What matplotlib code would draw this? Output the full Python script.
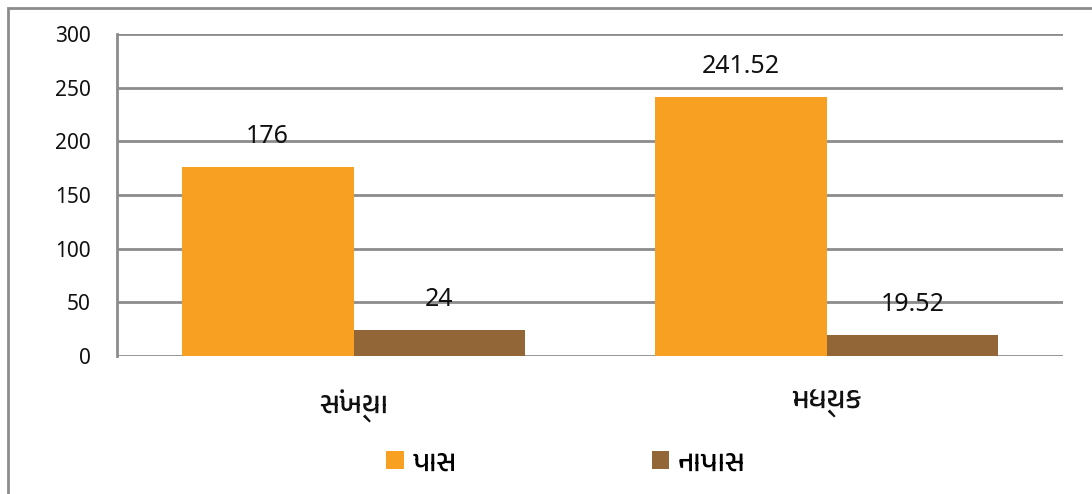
import matplotlib
matplotlib.use("Agg")
import matplotlib.pyplot as plt
from matplotlib import font_manager
from matplotlib.patches import Rectangle
import numpy as np

categories = ["સંખ્યા", "મધ્યક"]
series_names = ["પાસ", "નાપાસ"]
pass_values = [176, 241.52]
fail_values = [24, 19.52]
value_labels_pass = ["176", "241.52"]
value_labels_fail = ["24", "19.52"]
yticks = [0, 50, 100, 150, 200, 250, 300]

colors = ["#F7A021", "#936637"]

guj = [f.name for f in font_manager.fontManager.ttflist if "gujarati" in f.name.lower()]
families = (guj[:1] if guj else []) + ["Noto Sans", "DejaVu Sans"]
plt.rcParams["font.family"] = families
numfont = ["Noto Sans", "DejaVu Sans"]

W, H = 1092, 494
fig = plt.figure(figsize=(W / 100, H / 100), dpi=100)
ax = fig.add_axes([117 / W, 1 - 356 / H, (1063 - 117) / W, (356 - 34) / H])

x = np.arange(len(categories))
bw = 0.3636
b1 = ax.bar(x - bw / 2, pass_values, bw, color=colors[0], label=series_names[0], zorder=3)
b2 = ax.bar(x + bw / 2, fail_values, bw, color=colors[1], label=series_names[1], zorder=3)

for bars, labs in ((b1, value_labels_pass), (b2, value_labels_fail)):
    for r, t in zip(bars, labs):
        ax.annotate(t, (r.get_x() + r.get_width() / 2, r.get_height()),
                    xytext=(0, 22), textcoords="offset points", ha="center", va="center",
                    fontsize=18, color="#111111", family=numfont)

ax.set_xlim(-0.5, 1.5)
ax.set_ylim(0, 300)
ax.set_yticks(yticks)
ax.set_yticklabels([str(v) for v in yticks], family=numfont)
ax.tick_params(axis="y", length=0, pad=19, labelsize=15, labelcolor="#111111")
ax.set_xticks(x)
ax.set_xticklabels(categories, fontsize=21)
ax.tick_params(axis="x", length=0, pad=24, labelcolor="#111111")
ax.grid(axis="y", color="#8c8c8c", linewidth=2, zorder=0)
for s in ("top", "right", "bottom"):
    ax.spines[s].set_visible(False)
ax.spines["left"].set_color("#8c8c8c")
ax.spines["left"].set_linewidth(2)

leg = fig.legend(handles=[b1, b2], labels=series_names, loc="center",
                 bbox_to_anchor=(566 / W, 1 - 463 / H), ncol=2, frameon=False,
                 fontsize=21, handlelength=0.6, handleheight=0.6, handletextpad=0.3,
                 columnspacing=6.7)

fig.patches.append(Rectangle((8 / W, -0.1), 1.2, 1 - 8 / H + 0.1, transform=fig.transFigure,
                             fill=False, edgecolor="#8c8c8c", linewidth=2))

fig.savefig("out.png", dpi=100, facecolor="white")
